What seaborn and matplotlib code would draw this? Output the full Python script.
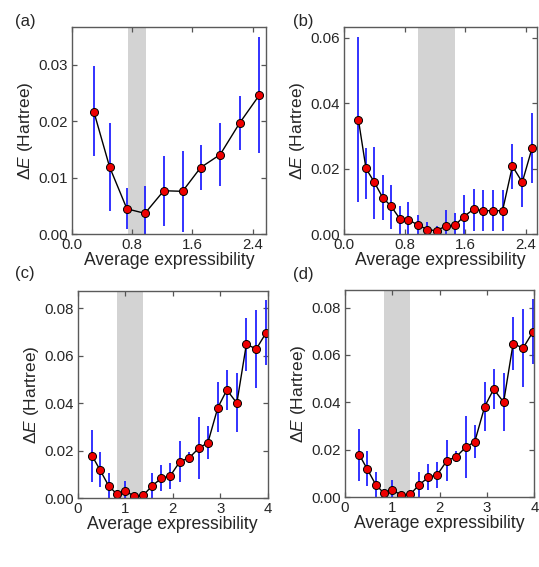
import numpy as np
import pandas as pd
import matplotlib
matplotlib.use("Agg")
import matplotlib.pyplot as plt
import seaborn as sns

# panel (a)
xa = [0.29, 0.50, 0.73, 0.97, 1.22, 1.47, 1.71, 1.97, 2.23, 2.49]
ya = [0.0217, 0.0119, 0.0045, 0.0037, 0.0077, 0.0076, 0.0118, 0.0141, 0.0197, 0.0246]
lo_a = [0.0138, 0.0042, 0.0009, 0.0, 0.0014, 0.0004, 0.0078, 0.0086, 0.0149, 0.0144]
hi_a = [0.0297, 0.0196, 0.0081, 0.0086, 0.0139, 0.0147, 0.0158, 0.0196, 0.0245, 0.0349]

# panel (b)
xb = [0.19, 0.29, 0.40, 0.51, 0.62, 0.74, 0.85, 0.98, 1.10, 1.22,
      1.34, 1.46, 1.58, 1.71, 1.83, 1.96, 2.09, 2.22, 2.35, 2.48]
yb = [0.0350, 0.0201, 0.0159, 0.0112, 0.0086, 0.0046, 0.0044, 0.0028, 0.0014, 0.0011,
      0.0025, 0.0027, 0.0054, 0.0077, 0.0072, 0.0072, 0.0072, 0.0208, 0.0159, 0.0264]
lo_b = [0.0099, 0.0108, 0.0047, 0.0044, 0.0015, 0.0, 0.0, 0.0, 0.0, 0.0,
        0.0, 0.0, 0.0, 0.0010, 0.0010, 0.0010, 0.0010, 0.0137, 0.0082, 0.0157]
hi_b = [0.0602, 0.0264, 0.0267, 0.0181, 0.0150, 0.0087, 0.0099, 0.0059, 0.0039, 0.0025,
        0.0074, 0.0066, 0.0120, 0.0137, 0.0135, 0.0135, 0.0135, 0.0277, 0.0237, 0.0369]

# panel (c)
xc = [0.30, 0.47, 0.65, 0.82, 1.00, 1.18, 1.38, 1.57, 1.76, 1.95,
      2.15, 2.35, 2.55, 2.74, 2.95, 3.14, 3.35, 3.55, 3.76, 3.97]
yc = [0.0180, 0.0119, 0.0053, 0.0018, 0.0031, 0.0010, 0.0013, 0.0053, 0.0084, 0.0095,
      0.0154, 0.0171, 0.0211, 0.0234, 0.0382, 0.0456, 0.0401, 0.0648, 0.0629, 0.0698]
lo_c = [0.0070, 0.0046, 0.0, 0.0, 0.0, 0.0, 0.0, 0.0, 0.0031, 0.0039,
        0.0070, 0.0147, 0.0080, 0.0164, 0.0281, 0.0372, 0.0281, 0.0538, 0.0463, 0.0561]
hi_c = [0.0288, 0.0194, 0.0108, 0.0035, 0.0073, 0.0020, 0.0028, 0.0108, 0.0140, 0.0150,
        0.0241, 0.0194, 0.0344, 0.0306, 0.0488, 0.0540, 0.0526, 0.0761, 0.0793, 0.0835]

# panel (d) is the same data as (c)
xd, yd, lo_d, hi_d = xc, yc, lo_c, hi_c

panels = [
    ("(a)", xa, ya, lo_a, hi_a, (0.74, 0.98), (0, 2.58), (0, 0.0366),
     [0.0, 0.8, 1.6, 2.4], "{:.1f}", [0, 0.01, 0.02, 0.03]),
    ("(b)", xb, yb, lo_b, hi_b, (0.97, 1.46), (0, 2.54), (0, 0.0632),
     [0.0, 0.8, 1.6, 2.4], "{:.1f}", [0, 0.02, 0.04, 0.06]),
    ("(c)", xc, yc, lo_c, hi_c, (0.83, 1.38), (0, 4.0), (0, 0.0874),
     [0, 1, 2, 3, 4], "{:.0f}", [0, 0.02, 0.04, 0.06, 0.08]),
    ("(d)", xd, yd, lo_d, hi_d, (0.83, 1.38), (0, 4.0), (0, 0.0874),
     [0, 1, 2, 3, 4], "{:.0f}", [0, 0.02, 0.04, 0.06, 0.08]),
]

# axes boxes in figure fraction [left, bottom, width, height]
boxes = [
    [0.1336, 0.5868, 0.3600, 0.3650],
    [0.6382, 0.5868, 0.3575, 0.3650],
    [0.1442, 0.1212, 0.3525, 0.3661],
    [0.6400, 0.1230, 0.3515, 0.3655],
]
label_pos = [(0.028, 0.962), (0.543, 0.962), (0.028, 0.518), (0.543, 0.515)]

sns.set_theme(style="ticks")
plt.rcParams["font.family"] = ["Liberation Sans", "DejaVu Sans"]
plt.rcParams["mathtext.fontset"] = "custom"
plt.rcParams["mathtext.rm"] = "Liberation Sans"
plt.rcParams["mathtext.it"] = "Liberation Sans:italic"

fig = plt.figure(figsize=(5.39, 5.67), dpi=100)

for (lab, x, y, lo, hi, band, xlim, ylim, xt, xfmt, yt), box, lp in zip(panels, boxes, label_pos):
    ax = fig.add_axes(box)
    ax.axvspan(band[0], band[1], color="#d3d3d3", lw=0, zorder=0)
    ax.vlines(x, lo, hi, color="#2222ff", lw=1.3, zorder=1)
    df = pd.DataFrame({"x": x, "y": y})
    sns.lineplot(data=df, x="x", y="y", ax=ax, color="black", lw=1.0,
                 marker="o", markersize=5.8, markerfacecolor="#ee0000",
                 markeredgecolor="black", markeredgewidth=0.7, zorder=2)
    ax.set_xlim(*xlim)
    ax.set_ylim(*ylim)
    ax.set_xticks(xt)
    ax.set_xticklabels([xfmt.format(v) for v in xt])
    ax.set_yticks(yt)
    ax.set_yticklabels(["{:.2f}".format(v) for v in yt])
    ax.tick_params(direction="in", top=True, right=True, length=3.5, width=0.9,
                   color="#555555", labelsize=10.8, pad=3)
    for s in ax.spines.values():
        s.set_color("#5a5a5a")
        s.set_linewidth(1.0)
    ax.set_xlabel("Average expressibility", fontsize=12.7, labelpad=0)
    ax.set_ylabel(r"Δ$\it{E}$ (Hartree)", fontsize=12.5, labelpad=2)
    fig.text(lp[0], lp[1], lab, fontsize=12, ha="left", va="center")

fig.savefig("out.png", dpi=100)
